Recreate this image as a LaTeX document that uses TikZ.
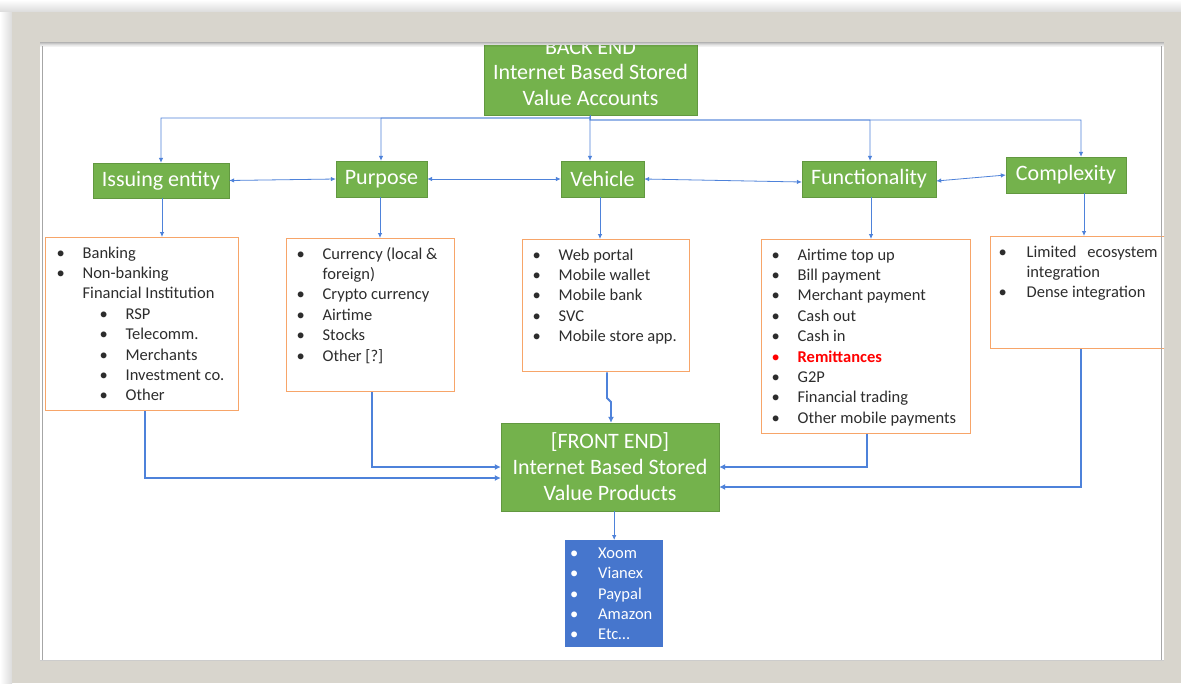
\documentclass[tikz,border=0pt]{standalone}
\usepackage{fontspec}
\setmainfont{Carlito}
\usetikzlibrary{arrows.meta}
\definecolor{gfill}{RGB}{116,178,76}
\definecolor{gdraw}{RGB}{98,152,64}
\definecolor{obord}{RGB}{247,165,105}
\definecolor{conn}{RGB}{78,130,218}
\definecolor{bfill}{RGB}{70,118,205}
\definecolor{framec}{RGB}{216,213,205}
\definecolor{outerc}{RGB}{236,236,234}
\definecolor{txt}{RGB}{45,45,45}
\definecolor{remred}{RGB}{255,0,0}
\newlength\bw \newlength\si
\newcommand\lfirst{\rule{0pt}{20.5pt}\makebox[\bw][l]{\textbullet}}
\newcommand\li[1]{\par\makebox[\bw][l]{\textbullet}#1}
\newcommand\lii[1]{\par\hspace*{\si}\makebox[\bw][l]{\textbullet}#1}
\newcommand\lc[1]{\par\hspace*{\bw}#1}
\tikzset{
  gbox/.style={draw=gdraw, fill=gfill, text=white, inner sep=0pt, align=center,
    font=\fontsize{22}{26}\selectfont},
  obox/.style={draw=obord, line width=1.3pt, fill=white, inner sep=0pt, anchor=north west,
    text=txt, font=\fontsize{16.5}{20.4}\selectfont},
  bbox/.style={fill=bfill, inner sep=0pt, anchor=north west, text=white,
    font=\fontsize{16.5}{20.4}\selectfont},
  thin conn/.style={draw=conn, line width=0.8pt, -{Latex[length=5pt,width=4.5pt]}},
  both conn/.style={draw=conn, line width=0.8pt, {Latex[length=5pt,width=4.5pt]}-{Latex[length=5pt,width=4.5pt]}},
  thick conn/.style={draw=conn, line width=1.8pt, -{Latex[length=6pt,width=6pt]}},
}
\begin{document}
\begin{tikzpicture}[x=1pt,y=-1pt]
\useasboundingbox (0,0) rectangle (1181,683);
% frame
\fill[outerc] (0,0) rectangle (1181,683);
\shade[top color=white, bottom color=black!14] (0,0) rectangle (1181,12);
\shade[left color=white, right color=black!14] (0,12) rectangle (12,683);
\fill[framec] (12,12) rectangle (1181,683);
\fill[white] (40,42) rectangle (1164,660);
\begin{scope}
\clip (40,45) rectangle (1164,660);
% back end
\node[gbox, minimum width=213pt, minimum height=84pt] (back) at (590.5,73) {BACK END\\[-1pt]Internet Based Stored\\Value Accounts};
% category nodes
\node[gbox, minimum width=136pt, minimum height=35pt] (iss) at (161,180.5) {Issuing entity};
\node[gbox, minimum width=91pt, minimum height=36pt] (pur) at (381.5,179) {Purpose};
\node[gbox, minimum width=83pt, minimum height=36pt] (veh) at (602.5,179) {Vehicle};
\node[gbox, minimum width=134pt, minimum height=36pt] (fun) at (869,179) {Functionality};
\node[gbox, minimum width=120pt, minimum height=36pt] (com) at (1066,175) {Complexity};
% front end
\node[gbox, minimum width=218pt, minimum height=88pt] (fe) at (610,467) {[FRONT END]\\Internet Based Stored\\Value Products};
% lists
\node[obox] (isslist) at (45,237) {\begin{minipage}[t][173pt][t]{193pt}\leftskip=11pt\bw=26pt\si=43pt
\lfirst Banking
\li{Non-banking}
\lc{Financial Institution}
\lii{RSP}
\lii{Telecomm.}
\lii{Merchants}
\lii{Investment co.}
\lii{Other}
\end{minipage}};
\node[obox] (purlist) at (286,238) {\begin{minipage}[t][153pt][t]{168pt}\leftskip=10pt\bw=26pt
\lfirst Currency (local \&
\lc{foreign)}
\li{Crypto currency}
\li{Airtime}
\li{Stocks}
\li{Other [?]}
\end{minipage}};
\node[obox] (vehlist) at (522,239) {\begin{minipage}[t][132pt][t]{167pt}\leftskip=10pt\bw=26pt
\lfirst Web portal
\li{Mobile wallet}
\li{Mobile bank}
\li{SVC}
\li{Mobile store app.}
\end{minipage}};
\node[obox] (funlist) at (761,239) {\begin{minipage}[t][194pt][t]{209pt}\leftskip=10pt\bw=26pt
\lfirst Airtime top up
\li{Bill payment}
\li{Merchant payment}
\li{Cash out}
\li{Cash in}
\par\makebox[\bw][l]{\color{remred}\textbullet}{\color{remred}\bfseries Remittances}
\li{G2P}
\li{Financial trading}
\li{Other mobile payments}
\end{minipage}};
\node[obox] (comlist) at (990,236) {\begin{minipage}[t][112pt][t]{182pt}\leftskip=8pt\bw=28pt
\lfirst\hbox to 131pt{Limited\hfill ecosystem}
\lc{integration}
\li{Dense integration}
\end{minipage}};
\node[bbox] (prod) at (565,540) {\begin{minipage}[t][107pt][t]{98pt}\leftskip=5pt\bw=28pt
\rule{0pt}{18pt}\makebox[\bw][l]{\textbullet}Xoom
\li{Vianex}
\li{Paypal}
\li{Amazon}
\li{Etc…}
\end{minipage}};
% coordinates
\coordinate (t1) at (590,118);
\coordinate (t2) at (590,120);
\coordinate (xi) at (161,0);
\coordinate (xp) at (381,0);
\coordinate (xv) at (590,0);
\coordinate (xf) at (870,0);
\coordinate (xc) at (1081,0);
% top connectors
\draw[thin conn] (back.south) -- (t1) -| (xi |- iss.north);
\draw[thin conn] (back.south) -- (t1) -| (xp |- pur.north);
\draw[thin conn] (back.south) -- (t2) -- (xv |- veh.north);
\draw[thin conn] (back.south) -- (t2) -| (xf |- fun.north);
\draw[thin conn] (back.south) -- (t2) -| (xc |- com.north);
% horizontal double arrows
\coordinate (y182) at (0,182);
\coordinate (y181) at (0,181);
\draw[both conn] (iss.east) -- (pur.west);
\draw[both conn] (pur.east) -- (veh.west);
\draw[both conn] (veh.east) -- (fun.west |- y182);
\draw[both conn] (fun.east |- y181) -- (com.west);
% down to lists
\coordinate (di) at (162,0);
\coordinate (dp) at (380,0);
\coordinate (dv) at (600,0);
\coordinate (df) at (871,0);
\coordinate (dc) at (1084,0);
\draw[thin conn] (di |- iss.south) -- (di |- isslist.north);
\draw[thin conn] (dp |- pur.south) -- (dp |- purlist.north);
\draw[thin conn] (dv |- veh.south) -- (dv |- vehlist.north);
\draw[thin conn] (df |- fun.south) -- (df |- funlist.north);
\draw[thin conn] (dc |- com.south) -- (dc |- comlist.north);
% to front end
\coordinate (bi) at (145,478);
\coordinate (bp) at (372,467);
\coordinate (bv1) at (607,398);
\coordinate (bv2) at (611,402);
\coordinate (bf) at (867,467);
\coordinate (bc) at (1081,487);
\draw[thick conn] (bi |- isslist.south) -- (bi) -- (bi -| fe.west);
\draw[thick conn] (bp |- purlist.south) -- (bp) -- (bp -| fe.west);
\draw[thick conn] (bv1 |- vehlist.south) -- (bv1) -- (bv2) -- (bv2 |- fe.north);
\draw[thick conn] (bf |- funlist.south) -- (bf) -- (bf -| fe.east);
\draw[thick conn] (bc |- comlist.south) -- (bc) -- (bc -| fe.east);
% to products
\draw[thin conn] (fe.south -| prod.north) -- (prod.north);
\end{scope}
% inner shadow of the frame
\foreach \i/\o in {0/0.30,1/0.22,2/0.15,3/0.09,4/0.05}{
  \fill[black, opacity=\o] (40,42+\i) rectangle (1164,43+\i);
}
\draw[black!35, line width=1pt] (42.5,46) -- (42.5,660);
\draw[black!35, line width=1pt] (1161.5,46) -- (1161.5,660);
\draw[black!20, line width=0.6pt] (40,660) -- (1164,660);
\end{tikzpicture}
\end{document}
